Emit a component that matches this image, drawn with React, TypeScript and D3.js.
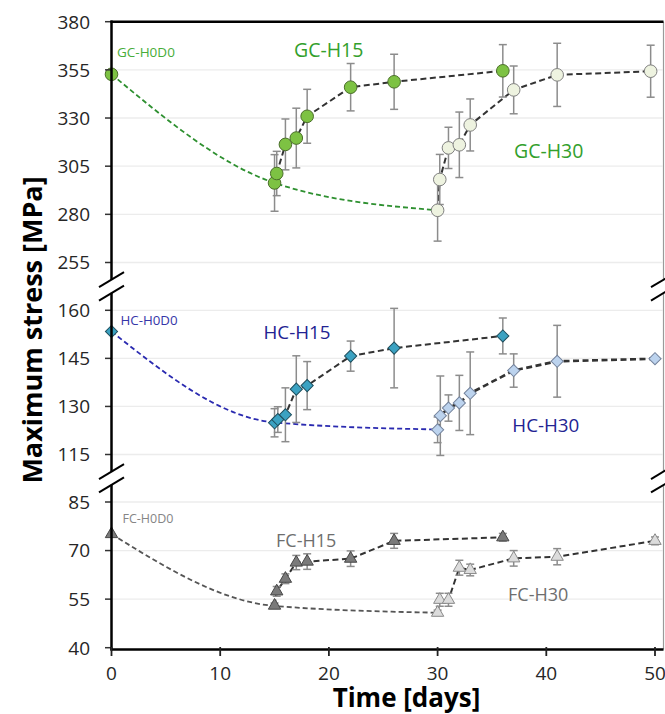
import React from "react";
import * as d3 from "d3";

// axis ticks
const xTicks = [0, 10, 20, 30, 40, 50];
const gcTicks = [255, 280, 305, 330, 355, 380];
const hcTicks = [115, 130, 145, 160];
const fcTicks = [40, 55, 70, 85];

// aging (H0D0) curves: day 0, 15, 30
const agingDays = [0, 15, 30];
const gcAging = [352.7, 296.3, 282.1];
const hcAging = [153.4, 125.0, 122.8];
const fcAging = [75.1, 52.9, 50.8];

// GC series
const gcH15Days = [15, 15.2, 16, 17, 18, 22, 26, 36];
const gcH15Stress = [296.3, 301.2, 316.3, 319.6, 330.9, 346.0, 348.8, 354.5];
const gcH15Err = [14.7, 11.5, 13.2, 15.5, 14.0, 12.3, 14.3, 13.6];
const gcH30Days = [30, 30.2, 31, 32, 33, 37, 41, 49.6];
const gcH30Stress = [282.1, 298.1, 314.5, 316.1, 326.4, 344.6, 352.4, 354.3];
const gcH30Err = [16.0, 13.0, 10.7, 17.0, 13.5, 12.4, 16.4, 13.5];

// HC series
const hcH15Days = [15, 15.3, 16, 17, 18, 22, 26, 36];
const hcH15Stress = [124.9, 125.9, 127.4, 135.4, 136.5, 145.7, 148.2, 152.0];
const hcH15Err = [4.4, 4.0, 8.4, 10.4, 7.5, 4.7, 12.4, 5.6];
const hcH30Days = [30, 30.25, 31, 32, 33, 37, 41, 50];
const hcH30Stress = [122.7, 127.1, 129.5, 131.1, 134.1, 141.2, 144.1, 144.9];
const hcH30Err = [4.0, 12.4, 4.1, 8.6, 12.9, 5.2, 11.2, 0];

// FC series
const fcH15Days = [15, 15.2, 16, 17, 18, 22, 26, 36];
const fcH15Stress = [53.0, 57.4, 61.3, 66.3, 66.6, 67.5, 73.0, 74.1];
const fcH15Err = [0.8, 1.5, 1.5, 2.2, 2.4, 2.4, 2.3, 1.2];
const fcH30Days = [30, 30.2, 31, 32, 33, 37, 41, 50];
const fcH30Stress = [50.8, 54.8, 54.8, 64.7, 64.0, 67.6, 68.1, 73.0];
const fcH30Err = [0.8, 2.0, 2.0, 2.3, 1.8, 2.4, 2.5, 1.2];

const W = 665;
const H = 714;
const left = 111.5;
const right = 663.5;
const bottomY = 649.5;
const font = "'Open Sans', 'DejaVu Sans', sans-serif";

const x = d3.scaleLinear().domain([0, 50]).range([left, 655]);
const yGC = d3.scaleLinear().domain([255, 380]).range([262.5, 21.7]);
const yHC = d3.scaleLinear().domain([115, 160]).range([454.5, 310.3]);
const yFC = d3.scaleLinear().domain([40, 85]).range([647.7, 502]);

const zip = (d: number[], v: number[], e?: number[]) =>
  d.map((day, i) => ({ day, v: v[i], e: e ? e[i] : 0 }));

const circle = d3.symbol(d3.symbolCircle, 125)();
const diamond = d3.symbol(d3.symbolSquare, 74)();
const triangle = d3.symbol(d3.symbolTriangle, 66)();

type Pt = { day: number; v: number; e: number };

const panels = [
  {
    y: yGC, ticks: gcTicks, aging: zip(agingDays, gcAging), agingColor: "#2e9030",
    h15: zip(gcH15Days, gcH15Stress, gcH15Err), h30: zip(gcH30Days, gcH30Stress, gcH30Err),
    marker: circle, rot: 0,
    f0: "#7dc243", s0: "#4b6e2b", f15: "#7dc243", s15: "#4b6e2b", f30: "#eef3e0", s30: "#808080",
    labels: [
      { t: "GC-H0D0", x: 117, y: 56.5, fs: 13.5, c: "#47ad3a" },
      { t: "GC-H15", x: 294, y: 57.2, fs: 19.5, c: "#33a02c" },
      { t: "GC-H30", x: 514, y: 158, fs: 19.5, c: "#33a02c" },
    ],
  },
  {
    y: yHC, ticks: hcTicks, aging: zip(agingDays, hcAging), agingColor: "#2a2ab0",
    h15: zip(hcH15Days, hcH15Stress, hcH15Err), h30: zip(hcH30Days, hcH30Stress, hcH30Err),
    marker: diamond, rot: 45,
    f0: "#3ba2c2", s0: "#1f4f5e", f15: "#3ba2c2", s15: "#1f4f5e", f30: "#bcd3ee", s30: "#74839c",
    labels: [
      { t: "HC-H0D0", x: 120.5, y: 324.5, fs: 13.3, c: "#3636a8" },
      { t: "HC-H15", x: 263.5, y: 338.8, fs: 18.8, c: "#232392" },
      { t: "HC-H30", x: 512.3, y: 432.3, fs: 18.8, c: "#232392" },
    ],
  },
  {
    y: yFC, ticks: fcTicks, aging: zip(agingDays, fcAging), agingColor: "#555555",
    h15: zip(fcH15Days, fcH15Stress, fcH15Err), h30: zip(fcH30Days, fcH30Stress, fcH30Err),
    marker: triangle, rot: 0,
    f0: "#7a7a7a", s0: "#474747", f15: "#7a7a7a", s15: "#474747", f30: "#dcdcdc", s30: "#8a8a8a",
    labels: [
      { t: "FC-H0D0", x: 122.5, y: 523.3, fs: 12.5, c: "#858585" },
      { t: "FC-H15", x: 276, y: 547.3, fs: 18, c: "#6e6e6e" },
      { t: "FC-H30", x: 508, y: 601, fs: 18, c: "#6e6e6e" },
    ],
  },
];

// break positions between the panels
const breaks = [(262.5 + 310.3) / 2, (454.5 + 502) / 2];

function App() {
  return (
    <svg width={W} height={H} style={{ position: "absolute", left: 0, top: 0, background: "#fff" }} fontFamily={font}>
      {/* grid */}
      {panels.map((p, pi) =>
        p.ticks
          .filter((t) => t !== 380 && t !== 40)
          .map((t) => (
            <line key={`g${pi}${t}`} x1={left} x2={right - 1} y1={p.y(t)} y2={p.y(t)} stroke="#ececec" strokeWidth={1.3} />
          ))
      )}

      {panels.map((p, pi) => {
        const yS = p.y;
        const curve = d3
          .line<Pt>()
          .x((d) => x(d.day))
          .y((d) => yS(d.v))
          .curve(d3.curveMonotoneX);
        const straight = d3
          .line<Pt>()
          .x((d) => x(d.day))
          .y((d) => yS(d.v));
        const pts = [
          ...p.h15.map((d) => ({ ...d, f: p.f15, s: p.s15 })),
          ...p.h30.map((d) => ({ ...d, f: p.f30, s: p.s30 })),
        ];
        return (
          <g key={`p${pi}`}>
            <path d={curve(p.aging) || ""} fill="none" stroke={p.agingColor} strokeWidth={1.8} strokeDasharray="5,3" />
            <path d={straight(p.h15) || ""} fill="none" stroke="#333" strokeWidth={2} strokeDasharray="6,3.5" />
            <path d={straight(p.h30) || ""} fill="none" stroke="#333" strokeWidth={pi === 1 ? 2.6 : 2} strokeDasharray="6,3.5" />
            {pts
              .filter((d) => d.e > 0)
              .map((d, i) => {
                const cx = x(d.day);
                const y1 = yS(d.v - d.e);
                const y2 = yS(d.v + d.e);
                return (
                  <g key={`e${i}`} stroke="#8c8c8c" strokeWidth={1.5}>
                    <line x1={cx} x2={cx} y1={y1} y2={y2} />
                    <line x1={cx - 4} x2={cx + 4} y1={y1} y2={y1} />
                    <line x1={cx - 4} x2={cx + 4} y1={y2} y2={y2} />
                  </g>
                );
              })}
            {pts.map((d, i) => (
              <path
                key={`m${i}`}
                d={p.marker || ""}
                transform={`translate(${x(d.day)},${yS(d.v)}) rotate(${p.rot})`}
                fill={d.f}
                stroke={d.s}
                strokeWidth={1}
              />
            ))}
            <path
              d={p.marker || ""}
              transform={`translate(${x(p.aging[0].day)},${yS(p.aging[0].v)}) rotate(${p.rot})`}
              fill={p.f0}
              stroke={p.s0}
              strokeWidth={1}
            />
            {p.labels.map((l) => (
              <text key={l.t} x={l.x} y={l.y} fontSize={l.fs} fill={l.c}>
                {l.t}
              </text>
            ))}
            {p.ticks.map((t) => (
              <g key={`t${t}`}>
                <line x1={105} x2={left} y1={yS(t)} y2={yS(t)} stroke="#333" strokeWidth={1.5} />
                <text x={90} y={yS(t)} dy="0.36em" textAnchor="end" fontSize={19} fill="#262626">
                  {t}
                </text>
              </g>
            ))}
          </g>
        );
      })}

      {/* frame */}
      <line x1={right} x2={right} y1={21.7} y2={bottomY} stroke="#9a9a9a" strokeWidth={1.2} />
      <line x1={left - 1} x2={right} y1={21.7} y2={21.7} stroke="#000" strokeWidth={2.5} />
      <line x1={left} x2={left} y1={20.5} y2={bottomY + 1} stroke="#000" strokeWidth={2.5} />
      <line x1={left - 1} x2={right} y1={bottomY} y2={bottomY} stroke="#000" strokeWidth={2.5} />

      {xTicks.map((t) => (
        <g key={`x${t}`}>
          <line x1={x(t)} x2={x(t)} y1={647} y2={656} stroke="#222" strokeWidth={1.8} />
          <text x={x(t)} y={679.5} textAnchor="middle" fontSize={19} fill="#262626">
            {t}
          </text>
        </g>
      ))}

      {/* axis breaks */}
      {breaks.map((c, i) =>
        [left, right].map((bx) => (
          <g key={`b${i}${bx}`}>
            <rect x={bx - 3} y={c - 6.5} width={6} height={13} fill="#fff" />
            {[-6.7, 6.7].map((d) => (
              <line key={d} x1={bx - 12.5} y1={c + d + 7.5} x2={bx + 12.5} y2={c + d - 7.5} stroke="#000" strokeWidth={2} />
            ))}
          </g>
        ))
      )}

      <text
        transform="translate(42,330) rotate(-90)"
        textAnchor="middle"
        fontSize={27}
        fontWeight="bold"
        fill="#000"
      >
        Maximum stress [MPa]
      </text>
      <text x={406.5} y={707} textAnchor="middle" fontSize={26} fontWeight="bold" fill="#000">
        Time [days]
      </text>
    </svg>
  );
}

export default App;
